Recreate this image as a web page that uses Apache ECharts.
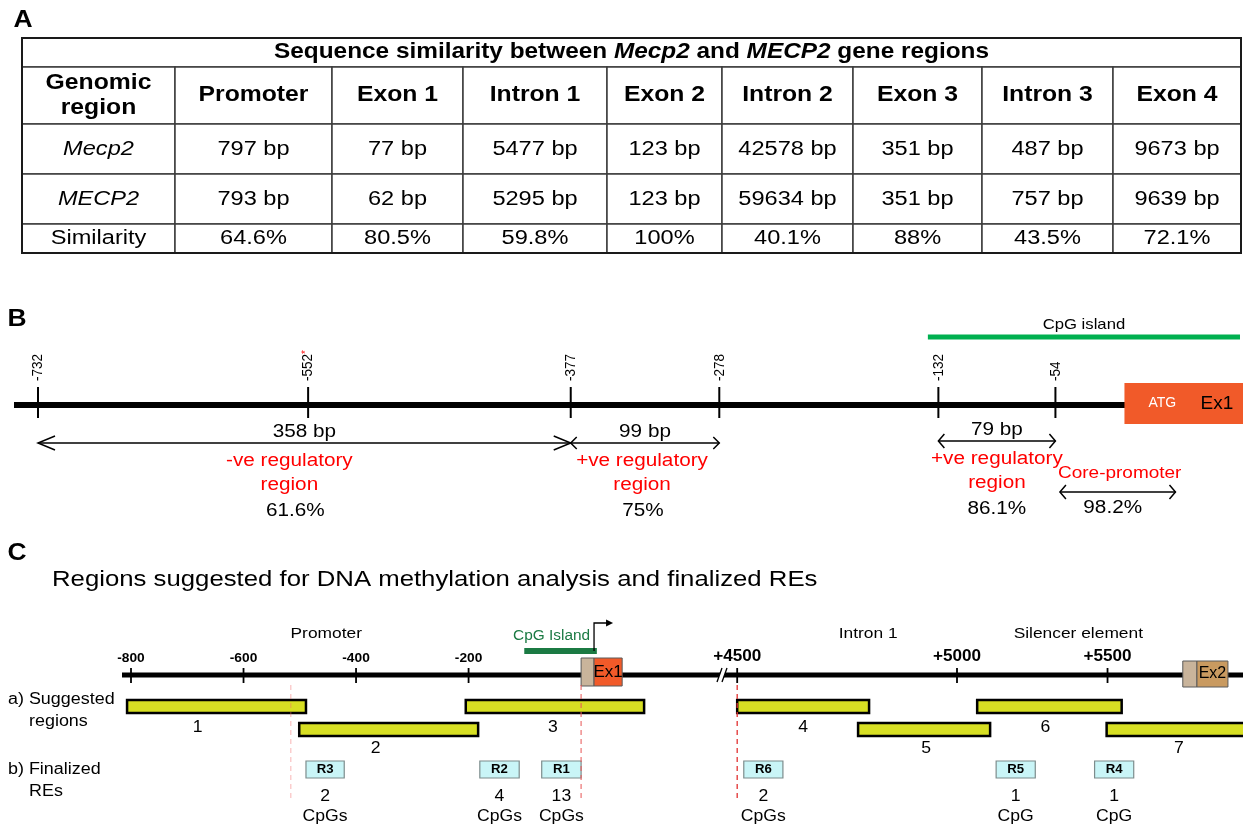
<!DOCTYPE html>
<html>
<head>
<meta charset="utf-8">
<script src="https://cdn.jsdelivr.net/npm/echarts@6.0.0/dist/echarts.min.js"></script>
<style>
  html, body { margin: 0; padding: 0; background: #fff; }
  #chart { width: 1243px; height: 829px; }
</style>
</head>
<body>
<div id="chart"></div>
<script>
// ---------------- Panel A: sequence similarity per gene region ----------------
const REGIONS = ['Promoter', 'Exon 1', 'Intron 1', 'Exon 2', 'Intron 2', 'Exon 3', 'Intron 3', 'Exon 4'];
const MOUSE_BP = [797, 77, 5477, 123, 42578, 351, 487, 9673];
const HUMAN_BP = [793, 62, 5295, 123, 59634, 351, 757, 9639];
const SIMILARITY = [64.6, 80.5, 59.8, 100, 40.1, 88, 43.5, 72.1];

// ---------------- Panel B: promoter map, bp relative to Ex1 ----------------
const B_SITES = [-732, -552, -377, -278, -132, -54];
const B_STARRED = [-552];
const B_SEG_FROM = [-732, -377, -132];
const B_SEG_TO = [-377, -278, -54];
const B_SEG_BP = [358, 99, 79];
const B_SEG_ROLE = ['-ve regulatory\nregion', '+ve regulatory\nregion', '+ve regulatory\nregion'];
const B_SEG_SIM = [61.6, 75, 86.1];
const B_CPG_ISLAND = [-139, 69];
const B_CORE_PROMOTER = [-51, 26];
const B_CORE_SIM = [98.2];
const B_EXON1 = [-8, 71];

// ---------------- Panel C: suggested regions and finalized REs ----------------
const C_TICKS = [-800, -600, -400, -200, 4500, 5000, 5500];
const C_LANDMARKS = ['Promoter', 'Intron 1', 'Silencer element'];
const C_LANDMARK_AT = [-453, 4798, 5403];
const C_REGION_ID = [1, 2, 3, 4, 5, 6, 7];
const C_REGION_START = [-807, -501, -205, 4500, 4775, 5067, 5497];
const C_REGION_END = [-489, -183, 112, 4800, 5110, 5547, 5965];
const C_REGION_LANE = [0, 1, 0, 0, 1, 0, 1];
const C_RE_NAME = ['R3', 'R2', 'R1', 'R6', 'R5', 'R4'];
const C_RE_START = [-489, -180, -70, 4515, 5130, 5457];
const C_RE_END = [-421, -110, 0, 4604, 5260, 5587];
const C_RE_CPGS = [2, 4, 13, 2, 1, 1];
const C_CPG_ISLAND = [-101, 28];
const C_TSS = [23];
const C_EXON1 = [0, 23, 73];      // UTR start, coding start, end
const C_EXON2 = [5750, 5797, 5900];
const C_GUIDES = [-516, 0, 4500];

// ---------------- layout and styling ----------------
const FONT = '"Liberation Sans", Arial, Helvetica, sans-serif';
const STRETCH = 1.15;
const TABLE = { left: 22, top: 38, colW: [153, 157, 131, 144, 115, 131, 129, 131, 128], rowH: [29, 57, 50, 50, 29] };
const B_AXIS = { left: 14, width: 1229, top: 300, height: 230, min: -748, max: 71 };
const C_PANEL = { top: 540, height: 289 };
const C_AXES = [
  { left: 122, width: 602, min: -816, max: 254 },
  { left: 724, width: 233, min: 4470, max: 5000 },
  { left: 957, width: 286, min: 5000, max: 5950 }
];
const BY = { cpgLabel: 25, cpgBar: 37, siteLabel: 81, tickTop: 87, tickBot: 118, axis: 105, exonTop: 83, exonBot: 124,
             size: 132, arrow: 143, role: 173, sim: 211, coreLabel: 173, coreArrow: 192, coreSim: 208 };
const B_HEAD = [[17, 7], [6, 6], [6, 7]];
const B_ROLE_DX = [-15, -3, 0];   // horizontal nudge of the text under each span
const B_SIM_DX = [-9, -2, 0];
const B_SEG_DY = [0, 0, -2];
const CY = { landmark: 94, cpgLabel: 96, tssTop: 83, cpgBar: 111, tickLabelP: 119, tickLabelI: 117, tickTop: 128, tickBot: 143,
             axis: 135, ex1: [118, 146], ex2: [121, 147], guide: [145, 262], lane: [[160, 173], [183, 196]], laneLabel: [188, 209],
             re: [221, 238], count: 257, unit: 277 };
const C_LABEL_DX = [-19, -13, -2, 0, 2, -4, 4];
const GUIDE_COLORS = ['rgba(240,110,110,0.4)', 'rgba(232,90,90,0.8)', '#e23030'];
const COLORS = { region: '#d7df23', re: '#c9f5f7', reBorder: '#7d8c8c', orange: '#f15a29', beige: '#c9b49b',
                 tan: '#c99a60', cpgB: '#00b050', cpgC: '#1b7a43', red: '#ff0000' };

const chart = echarts.init(document.getElementById('chart'));

const cumulative = a => a.reduce((acc, v) => (acc.push(acc[acc.length - 1] + v), acc), [0]);
const COL_EDGES = cumulative(TABLE.colW);
const ROW_EDGES = cumulative(TABLE.rowH);

function label(x, y, text, o) {
  o = o || {};
  return {
    type: 'text', x: x, y: y,
    scaleX: o.sx == null ? STRETCH : o.sx,
    scaleY: o.sy == null ? 1 : o.sy,
    rotation: o.rot || 0,
    style: {
      text: text, fill: o.fill || '#000', fontFamily: FONT, fontSize: o.size || 16,
      fontWeight: o.weight || 'normal', fontStyle: o.italic ? 'italic' : 'normal',
      align: o.align || 'center', verticalAlign: o.va || 'middle',
      lineHeight: o.lh, rich: o.rich
    }
  };
}
function seg(x1, y1, x2, y2, stroke, w, dash) {
  return { type: 'line', shape: { x1: x1, y1: y1, x2: x2, y2: y2 },
           style: { stroke: stroke, lineWidth: w, lineDash: dash || null } };
}
function box(x0, y0, x1, y1, fill, stroke, w) {
  return { type: 'rect', shape: { x: x0, y: y0, width: x1 - x0, height: y1 - y0 },
           style: { fill: fill, stroke: stroke, lineWidth: w } };
}
function dblArrow(x0, x1, y, len, half) {
  const st = () => ({ stroke: '#000', lineWidth: 1.5, fill: null });
  return [
    { type: 'line', shape: { x1: x0, y1: y, x2: x1, y2: y }, style: st() },
    { type: 'polyline', shape: { points: [[x0 + len, y - half], [x0, y], [x0 + len, y + half]] }, style: st() },
    { type: 'polyline', shape: { points: [[x1 - len, y - half], [x1, y], [x1 - len, y + half]] }, style: st() }
  ];
}
function custom(name, grid, data, renderItem) {
  return { type: 'custom', name: name, coordinateSystem: 'cartesian2d', xAxisIndex: grid, yAxisIndex: grid,
           data: data, renderItem: renderItem, silent: true, animation: false };
}

// Panel B scale helpers (grid 1)
const bx = (api, v) => api.coord([v, 0])[0];
const by = (api, off) => api.coord([B_AXIS.min, off])[1];
// Panel C: piecewise ruler over three axes (grids 2..4)
function cx(v) {
  let k = 0;
  for (let i = 0; i < C_AXES.length; i++) if (v >= C_AXES[i].min) k = i;
  return chart.convertToPixel({ xAxisIndex: 2 + k }, v);
}
const cy = (api, off) => api.coord([C_AXES[0].min, off])[1];

// ---------- table cells ----------
const CELLS = [];
CELLS.push({ c0: 0, c1: 8, r: 0, kind: 'title',
  text: '{b|Sequence similarity between }{bi|Mecp2}{b| and }{bi|MECP2}{b| gene regions}' });
CELLS.push({ c0: 0, c1: 0, r: 1, kind: 'head', text: 'Genomic\nregion' });
REGIONS.forEach((g, i) => CELLS.push({ c0: i + 1, c1: i + 1, r: 1, kind: 'head', text: g }));
CELLS.push({ c0: 0, c1: 0, r: 2, kind: 'gene', text: 'Mecp2' });
MOUSE_BP.forEach((v, i) => CELLS.push({ c0: i + 1, c1: i + 1, r: 2, kind: 'cell', text: v + ' bp' }));
CELLS.push({ c0: 0, c1: 0, r: 3, kind: 'gene', text: 'MECP2' });
HUMAN_BP.forEach((v, i) => CELLS.push({ c0: i + 1, c1: i + 1, r: 3, kind: 'cell', text: v + ' bp' }));
CELLS.push({ c0: 0, c1: 0, r: 4, kind: 'cell', text: 'Similarity' });
SIMILARITY.forEach((v, i) => CELLS.push({ c0: i + 1, c1: i + 1, r: 4, kind: 'cell', text: v + '%' }));

const titleRich = {
  b: { fontFamily: FONT, fontSize: 21.2, fontWeight: 'bold', fill: '#000' },
  bi: { fontFamily: FONT, fontSize: 21.2, fontWeight: 'bold', fontStyle: 'italic', fill: '#000' }
};

const series = [];

series.push(custom('table', 0, CELLS.map(c => [COL_EDGES[c.c0], ROW_EDGES[c.r]]), (params, api) => {
  const c = CELLS[params.dataIndex];
  const p0 = api.coord([COL_EDGES[c.c0], ROW_EDGES[c.r]]);
  const p1 = api.coord([COL_EDGES[c.c1 + 1], ROW_EDGES[c.r + 1]]);
  const mx = (p0[0] + p1[0]) / 2, my = (p0[1] + p1[1]) / 2;
  let t;
  if (c.kind === 'title') t = label(mx, my, c.text, { rich: titleRich, size: 21.2, weight: 'bold' });
  else if (c.kind === 'head') t = label(mx, my, c.text, { size: 21.5, weight: 'bold', lh: 25 });
  else t = label(mx, my, c.text, { size: 20.5, italic: c.kind === 'gene' });
  return { type: 'group', children: [box(p0[0], p0[1], p1[0], p1[1], '#fff', '#3c3c3c', 1.5), t] };
}));
series.push(custom('table frame', 0, [[0, 0]], (params, api) => {
  const p0 = api.coord([0, 0]);
  const p1 = api.coord([COL_EDGES[COL_EDGES.length - 1], ROW_EDGES[ROW_EDGES.length - 1]]);
  return box(p0[0], p0[1], p1[0], p1[1], null, '#1a1a1a', 2);
}));

// ---------- panel B ----------
series.push(custom('B backbone', 1, [[B_AXIS.min, B_AXIS.max]], (params, api) =>
  seg(bx(api, api.value(0)), by(api, BY.axis), bx(api, api.value(1)), by(api, BY.axis), '#000', 6)));

series.push(custom('B exon 1', 1, [B_EXON1], (params, api) => {
  const x0 = bx(api, api.value(0)), x1 = bx(api, api.value(1));
  const w = x1 - x0, mid = by(api, (BY.exonTop + BY.exonBot) / 2);
  return { type: 'group', children: [
    box(x0, by(api, BY.exonTop), x1, by(api, BY.exonBot), COLORS.orange, null, 0),
    label(x0 + w * 0.32, mid, 'ATG', { size: 14, fill: '#fff', sx: 1 }),
    label(x0 + w * 0.78, mid, 'Ex1', { size: 19, sx: 1 })
  ] };
}));

series.push(custom('B sites', 1, B_SITES.map(v => [v]), (params, api) => {
  const v = B_SITES[params.dataIndex], x = bx(api, v);
  const txt = B_STARRED.indexOf(v) >= 0 ? '{n|' + v + '}{s|*}' : '{n|' + v + '}';
  return { type: 'group', children: [
    seg(x, by(api, BY.tickTop), x, by(api, BY.tickBot), '#000', 2),
    label(x, by(api, BY.siteLabel), txt, { rot: Math.PI / 2, align: 'left', sx: 1, sy: 1.15, size: 13.5,
      rich: { n: { fontFamily: FONT, fontSize: 13.5, fill: '#000' },
              s: { fontFamily: FONT, fontSize: 10, fill: COLORS.red, verticalAlign: 'top' } } })
  ] };
}));

series.push(custom('B CpG island', 1, [B_CPG_ISLAND], (params, api) => {
  const x0 = bx(api, api.value(0)), x1 = bx(api, api.value(1));
  return { type: 'group', children: [
    seg(x0, by(api, BY.cpgBar), x1, by(api, BY.cpgBar), COLORS.cpgB, 5),
    label((x0 + x1) / 2, by(api, BY.cpgLabel), 'CpG island', { size: 14.5 })
  ] };
}));

series.push(custom('B regulatory regions', 1, B_SEG_FROM.map((f, i) => [f, B_SEG_TO[i]]), (params, api) => {
  const i = params.dataIndex, dy = B_SEG_DY[i];
  const x0 = bx(api, api.value(0)), x1 = bx(api, api.value(1)), mx = (x0 + x1) / 2;
  return { type: 'group', children: dblArrow(x0, x1, by(api, BY.arrow + dy), B_HEAD[i][0], B_HEAD[i][1]).concat([
    label(mx, by(api, BY.size + dy), B_SEG_BP[i] + ' bp', { size: 18 }),
    label(mx + B_ROLE_DX[i], by(api, BY.role + dy), B_SEG_ROLE[i], { size: 18, fill: COLORS.red, lh: 24 }),
    label(mx + B_SIM_DX[i], by(api, BY.sim + dy), B_SEG_SIM[i] + '%', { size: 18 })
  ]) };
}));

series.push(custom('B core promoter', 1, [B_CORE_PROMOTER], (params, api) => {
  const x0 = bx(api, api.value(0)), x1 = bx(api, api.value(1)), mx = (x0 + x1) / 2;
  return { type: 'group', children: dblArrow(x0, x1, by(api, BY.coreArrow), 6, 7).concat([
    label(mx + 2, by(api, BY.coreLabel), 'Core-promoter', { size: 16.5, fill: COLORS.red }),
    label(mx - 5, by(api, BY.coreSim), B_CORE_SIM[0] + '%', { size: 18 })
  ]) };
}));

// ---------- panel C ----------
const C_STRETCHES = [[C_AXES[0].min, C_AXES[0].max], [C_AXES[1].min, C_AXES[2].max]];
series.push(custom('C backbone', 2, C_STRETCHES, (params, api) =>
  seg(cx(api.value(0)), cy(api, CY.axis), cx(api.value(1)), cy(api, CY.axis), '#000', 5)));

series.push(custom('C axis break', 2, [[C_AXES[0].max]], (params, api) => {
  const x = cx(api.value(0)) - 1, y = cy(api, CY.axis);
  return { type: 'group', children: [
    { type: 'polygon', shape: { points: [[x - 6, y + 7], [x - 1, y - 7], [x + 4, y - 7], [x - 1, y + 7]] }, style: { fill: '#fff' } },
    seg(x - 6, y + 7, x - 1, y - 7, '#000', 1.3),
    seg(x - 1, y + 7, x + 4, y - 7, '#000', 1.3)
  ] };
}));

series.push(custom('C ticks', 2, C_TICKS.map(v => [v]), (params, api) => {
  const v = C_TICKS[params.dataIndex], x = cx(v), intron = v > 0;
  return { type: 'group', children: [
    seg(x, cy(api, CY.tickTop), x, cy(api, CY.tickBot), '#000', 1.8),
    label(x, cy(api, intron ? CY.tickLabelI : CY.tickLabelP), intron ? '+' + v : String(v),
      { size: intron ? 16 : 12.5, weight: 'bold', sx: intron ? 1.07 : 1.1 })
  ] };
}));

series.push(custom('C exons', 2, [C_EXON1, C_EXON2], (params, api) => {
  const e = params.dataIndex === 0 ? C_EXON1 : C_EXON2;
  const yy = params.dataIndex === 0 ? CY.ex1 : CY.ex2;
  const x0 = cx(e[0]), x1 = cx(e[1]), x2 = cx(e[2]);
  const y0 = cy(api, yy[0]), y1 = cy(api, yy[1]);
  return { type: 'group', children: [
    box(x0, y0, x1, y1, COLORS.beige, '#5a5a5a', 1),
    box(x1, y0, x2, y1, params.dataIndex === 0 ? COLORS.orange : COLORS.tan, '#5a5a5a', 1),
    label((x1 + x2) / 2, (y0 + y1) / 2, params.dataIndex === 0 ? 'Ex1' : 'Ex2', { size: params.dataIndex === 0 ? 17 : 16, sx: 1 })
  ] };
}));

series.push(custom('C CpG island', 2, [C_CPG_ISLAND], (params, api) => {
  const x0 = cx(api.value(0)), x1 = cx(api.value(1));
  const xt = cx(C_TSS[0]), yb = cy(api, CY.cpgBar), yt = cy(api, CY.tssTop);
  return { type: 'group', children: [
    seg(x0, yb, x1, yb, COLORS.cpgC, 6),
    label((x0 + x1) / 2 - 9, cy(api, CY.cpgLabel), 'CpG Island', { size: 14, fill: COLORS.cpgC, sx: 1.1 }),
    { type: 'polyline', shape: { points: [[xt, yb], [xt, yt], [xt + 14, yt]] }, style: { stroke: '#000', lineWidth: 1.3, fill: null } },
    { type: 'polygon', shape: { points: [[xt + 12, yt - 3.5], [xt + 19, yt], [xt + 12, yt + 3.5]] }, style: { fill: '#000' } }
  ] };
}));

series.push(custom('C landmarks', 2, C_LANDMARK_AT.map(v => [v]), (params, api) =>
  label(cx(api.value(0)), cy(api, CY.landmark), C_LANDMARKS[params.dataIndex], { size: 15.5, sx: 1.12 })));

series.push(custom('C suggested regions', 2, C_REGION_START.map((s, i) => [s, C_REGION_END[i]]), (params, api) => {
  const i = params.dataIndex, lane = C_REGION_LANE[i];
  const x0 = cx(api.value(0)), x1 = cx(api.value(1));
  return { type: 'group', children: [
    box(x0, cy(api, CY.lane[lane][0]), x1, cy(api, CY.lane[lane][1]), COLORS.region, '#000', 2.5),
    label((x0 + Math.min(x1, 1243)) / 2 + C_LABEL_DX[i], cy(api, CY.laneLabel[lane]), String(C_REGION_ID[i]), { size: 16, sx: 1.1 })
  ] };
}));

series.push(custom('C finalized REs', 2, C_RE_START.map((s, i) => [s, C_RE_END[i]]), (params, api) => {
  const i = params.dataIndex;
  const x0 = cx(api.value(0)), x1 = cx(api.value(1)), mx = (x0 + x1) / 2;
  const y0 = cy(api, CY.re[0]), y1 = cy(api, CY.re[1]);
  return { type: 'group', children: [
    box(x0, y0, x1, y1, COLORS.re, COLORS.reBorder, 1.2),
    label(mx, (y0 + y1) / 2, C_RE_NAME[i], { size: 12, weight: 'bold', sx: 1.1 }),
    label(mx, cy(api, CY.count), String(C_RE_CPGS[i]), { size: 16, sx: 1.1 }),
    label(mx, cy(api, CY.unit), C_RE_CPGS[i] === 1 ? 'CpG' : 'CpGs', { size: 16, sx: 1.1 })
  ] };
}));

series.push(custom('C guides', 2, C_GUIDES.map(v => [v]), (params, api) => {
  const x = cx(api.value(0));
  return seg(x, cy(api, CY.guide[0]), x, cy(api, CY.guide[1]), GUIDE_COLORS[params.dataIndex], 1.3, [5, 4]);
}));

// ---------- coordinate systems ----------
const grids = [
  { left: TABLE.left, top: TABLE.top, width: COL_EDGES[COL_EDGES.length - 1], height: ROW_EDGES[ROW_EDGES.length - 1] },
  { left: B_AXIS.left, top: B_AXIS.top, width: B_AXIS.width, height: B_AXIS.height }
].concat(C_AXES.map(a => ({ left: a.left, top: C_PANEL.top, width: a.width, height: C_PANEL.height })));
grids.forEach(g => { g.containLabel = false; g.outerBoundsMode = 'none'; });

const xAxes = [
  { min: 0, max: COL_EDGES[COL_EDGES.length - 1] },
  { min: B_AXIS.min, max: B_AXIS.max }
].concat(C_AXES.map(a => ({ min: a.min, max: a.max })))
 .map((a, i) => Object.assign({ type: 'value', gridIndex: i, show: false }, a));

const yAxes = [ROW_EDGES[ROW_EDGES.length - 1], B_AXIS.height, C_PANEL.height, C_PANEL.height, C_PANEL.height]
  .map((h, i) => ({ type: 'value', gridIndex: i, min: 0, max: h, inverse: true, show: false }));

function gtext(x, y, text, o) {
  const t = label(x, y, text, o);
  t.silent = true;
  return t;
}

chart.setOption({
  backgroundColor: '#fff',
  animation: false,
  grid: grids,
  xAxis: xAxes,
  yAxis: yAxes,
  series: series,
  graphic: { elements: [
    gtext(23, 21, 'A', { size: 23, weight: 'bold', sx: 1.15 }),
    gtext(17, 319, 'B', { size: 24, weight: 'bold', sx: 1.1 }),
    gtext(17, 553, 'C', { size: 24, weight: 'bold', sx: 1.1 }),
    gtext(52, 580, 'Regions suggested for DNA methylation analysis and finalized REs', { size: 22, align: 'left', sx: 1.17 }),
    gtext(8, 700, 'a) Suggested', { size: 16, align: 'left', sx: 1.12 }),
    gtext(29, 722, 'regions', { size: 16, align: 'left', sx: 1.12 }),
    gtext(8, 770, 'b) Finalized', { size: 16, align: 'left', sx: 1.12 }),
    gtext(29, 792, 'REs', { size: 16, align: 'left', sx: 1.12 })
  ] }
});
</script>
</body>
</html>
